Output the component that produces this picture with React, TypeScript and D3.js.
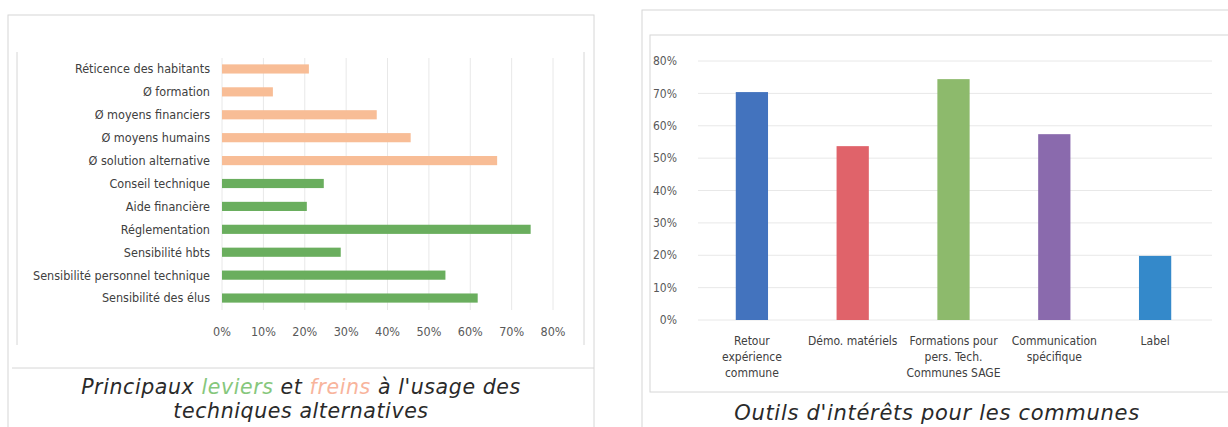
import React from 'react';
import * as d3 from 'd3';

/* left chart: levers (green) and brakes (orange) */
const leftCategories = [
  'Réticence des habitants',
  'Ø formation',
  'Ø moyens financiers',
  'Ø moyens humains',
  'Ø solution alternative',
  'Conseil technique',
  'Aide financière',
  'Réglementation',
  'Sensibilité hbts',
  'Sensibilité personnel technique',
  'Sensibilité des élus',
];
const leftValues = [0.21, 0.123, 0.374, 0.456, 0.665, 0.246, 0.205, 0.746, 0.287, 0.54, 0.618];
const leftKinds = ['frein', 'frein', 'frein', 'frein', 'frein', 'levier', 'levier', 'levier', 'levier', 'levier', 'levier'];
const leftTicks = [0, 0.1, 0.2, 0.3, 0.4, 0.5, 0.6, 0.7, 0.8];

/* right chart: tools of interest */
const rightCategories = [
  ['Retour', 'expérience', 'commune'],
  ['Démo. matériels'],
  ['Formations pour', 'pers. Tech.', 'Communes SAGE'],
  ['Communication', 'spécifique'],
  ['Label'],
];
const rightValues = [0.704, 0.537, 0.744, 0.574, 0.198];
const rightTicks = [0, 0.1, 0.2, 0.3, 0.4, 0.5, 0.6, 0.7, 0.8];

const COLORS = {
  levier: '#6aae5e',
  frein: '#f8bd96',
  right: ['#4373be', '#e0636a', '#8dba6c', '#8a6aad', '#3489ca'],
  grid: '#e8e8e8',
  frame: '#d6d6d6',
  label: '#404040',
  tick: '#595959',
};

const FONT = "'Liberation Sans Narrow', 'DejaVu Sans Condensed', sans-serif";
const CAPTION_FONT = "'DejaVu Sans', sans-serif";
const pct = d3.format('.0%');

function LeftChart() {
  const x = d3.scaleLinear().domain([0, 0.8]).range([222, 553]);
  const y = d3.scaleBand().domain(leftCategories).range([57.5, 309.5]).paddingInner(0.6).paddingOuter(0.3);

  return (
    <g>
      {/* frames */}
      <rect x={8} y={15} width={586} height={420} fill="none" stroke={COLORS.frame} />
      <line x1={17} x2={17} y1={52} y2={345} stroke={COLORS.frame} />
      <line x1={584} x2={584} y1={52} y2={345} stroke={COLORS.frame} />
      <line x1={12} x2={594} y1={368} y2={368} stroke={COLORS.frame} />

      {leftTicks.map(t => (
        <line key={t} x1={x(t)} x2={x(t)} y1={58} y2={310} stroke={COLORS.grid} />
      ))}

      {leftCategories.map((c, i) => (
        <g key={c}>
          <rect x={x(0)} y={y(c)} width={x(leftValues[i]) - x(0)} height={y.bandwidth()}
            fill={leftKinds[i] === 'levier' ? COLORS.levier : COLORS.frein} />
          <text x={210} y={y(c) + y.bandwidth() / 2} dy="0.35em" textAnchor="end"
            fontFamily={FONT} fontSize={12.5} fill={COLORS.label}>{c}</text>
        </g>
      ))}

      {leftTicks.map(t => (
        <text key={t} x={x(t)} y={332} dy="0.35em" textAnchor="middle"
          fontFamily={FONT} fontSize={12.5} fill={COLORS.tick}>{pct(t)}</text>
      ))}

      <text x={301} y={387} dy="0.35em" textAnchor="middle" fontFamily={CAPTION_FONT}
        fontStyle="italic" fontSize={20.5} letterSpacing={0.6} fill="#2a2a2a">
        Principaux <tspan fill="#86c77c">leviers</tspan> et <tspan fill="#f8b49c">freins</tspan> à l'usage des
      </text>
      <text x={301} y={411} dy="0.35em" textAnchor="middle" fontFamily={CAPTION_FONT}
        fontStyle="italic" fontSize={20.5} letterSpacing={0.6} fill="#2a2a2a">techniques alternatives</text>
    </g>
  );
}

function RightChart() {
  const keys = rightCategories.map(c => c.join(' '));
  const x = d3.scaleBand().domain(keys).range([701.5, 1205.5]).paddingInner(0.68).paddingOuter(0.34);
  const y = d3.scaleLinear().domain([0, 0.8]).range([320, 61]);

  return (
    <g>
      <rect x={642} y={10} width={600} height={430} fill="none" stroke={COLORS.frame} />
      <rect x={650} y={35} width={600} height={357} fill="none" stroke={COLORS.frame} />

      {rightTicks.map(t => (
        <g key={t}>
          <line x1={698} x2={1212} y1={y(t)} y2={y(t)} stroke={COLORS.grid} />
          <text x={677} y={y(t)} dy="0.35em" textAnchor="end" fontFamily={FONT}
            fontSize={12} fill={COLORS.tick}>{pct(t)}</text>
        </g>
      ))}

      {keys.map((k, i) => {
        const cx = x(k) + x.bandwidth() / 2;
        return (
          <g key={k}>
            <rect x={x(k)} y={y(rightValues[i])} width={x.bandwidth()}
              height={y(0) - y(rightValues[i])} fill={COLORS.right[i]} />
            <text x={cx} y={341} dy="0.35em" textAnchor="middle" fontFamily={FONT}
              fontSize={12} fill={COLORS.label}>
              {rightCategories[i].map((l, j) => (
                <tspan key={j} x={cx} dy={j === 0 ? '0.35em' : 16}>{l}</tspan>
              ))}
            </text>
          </g>
        );
      })}

      <text x={937} y={413} dy="0.35em" textAnchor="middle" fontFamily={CAPTION_FONT}
        fontStyle="italic" fontSize={21} letterSpacing={0.7} fill="#2a2a2a">Outils d'intérêts pour les communes</text>
    </g>
  );
}

export default function App() {
  return (
    <svg width={1228} height={427} style={{ position: 'absolute', left: 0, top: 0, background: '#fff' }}>
      <LeftChart />
      <RightChart />
    </svg>
  );
}
